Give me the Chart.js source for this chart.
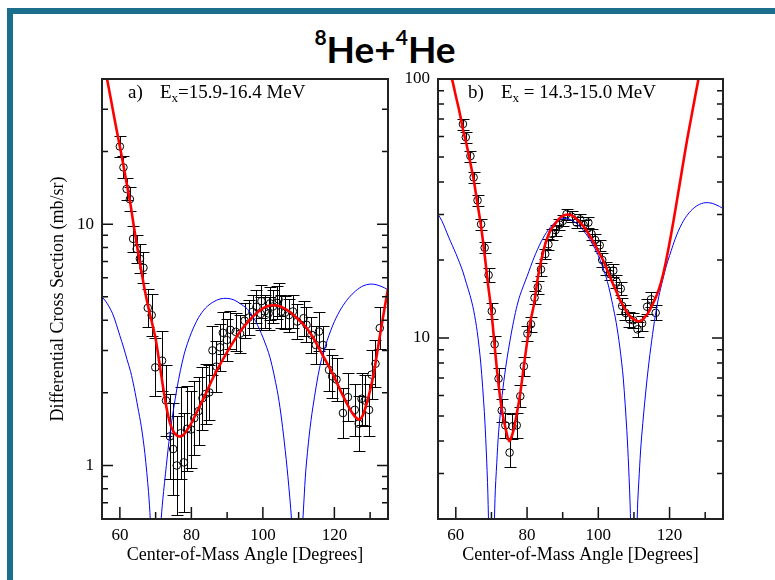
<!DOCTYPE html>
<html>
<head>
<meta charset="utf-8">
<script src="https://cdn.jsdelivr.net/npm/chart.js@4.4.0/dist/chart.umd.min.js"></script>
<style>
  html, body { margin: 0; padding: 0; background: #fff; }
  body { width: 775px; height: 580px; position: relative; overflow: hidden; }
  .frame { position: absolute; left: 7px; top: 8px; width: 830px; height: 640px;
           border: 6px solid #1b6f8c; box-sizing: border-box; }
  .title { position: absolute; left: 0; width: 770px; top: 30px; text-align: center;
           font-family: Lato, sans-serif; font-weight: 700; font-size: 37px; line-height: 37px; color: #000; }
  .title sup { font-size: 21px; vertical-align: 18px; line-height: 0; }
  canvas { position: absolute; }
  #chartA { left: 40px; top: 70px; }
  #chartB { left: 395px; top: 70px; }
  .lbl { position: absolute; font-family: "Liberation Serif", serif; font-size: 19px;
         line-height: 19px; white-space: pre; color: #000; }
  .lbl sub { font-size: 13px; vertical-align: -4px; line-height: 0; }
</style>
</head>
<body>
<div class="frame"></div>
<div class="title"><sup>8</sup>He+<sup>4</sup>He</div>
<canvas id="chartA" width="355" height="505"></canvas>
<canvas id="chartB" width="335" height="505"></canvas>
<div class="lbl" style="left:128px; top:82px;">a)</div>
<div class="lbl" style="left:160px; top:82px;">E<sub>x</sub>=15.9-16.4 MeV</div>
<div class="lbl" style="left:468px; top:82px;">b)</div>
<div class="lbl" style="left:501px; top:82px;">E<sub>x</sub> = 14.3-15.0 MeV</div>
<script>
// ---- panel a) Ex = 15.9-16.4 MeV ----
const angA = [60.0, 61.0, 61.9, 62.8, 63.7, 64.7, 65.6, 66.6, 67.8, 68.9, 69.9, 71.8, 72.9, 74.0, 74.9,
  75.9, 77.0, 77.9, 78.8, 79.9, 80.8, 82.0, 83.1, 84.0, 85.0, 85.9, 87.0, 88.0, 88.8, 89.9, 90.9, 92.4,
  93.6, 94.9, 96.0, 97.1, 98.2, 99.4, 99.6, 100.5, 101.6, 102.0, 102.8, 104.0, 104.4, 105.1, 106.2,
  107.3, 108.4, 109.6, 111.4, 112.2, 113.6, 114.8, 115.7, 116.8, 118.5, 119.4, 120.6, 122.4, 123.8,
  125.7, 126.8, 127.6, 128.5, 129.7, 130.4, 131.5, 132.7];
const xsecA = [21.0, 17.2, 14.0, 12.7, 8.7, 7.9, 7.2, 6.6, 4.5, 4.2, 2.55, 2.72, 1.86, 1.32, 1.17,
  1.0, 1.36, 1.03, 1.42, 1.41, 1.57, 1.68, 1.9, 1.98, 2.01, 3.0, 2.57, 3.09, 3.55, 3.31, 3.65, 3.58,
  3.52, 3.98, 4.1, 4.33, 4.55, 4.25, 4.8, 4.35, 4.27, 4.7, 4.56, 4.72, 4.88, 4.34, 4.3,
  4.2, 4.35, 3.95, 4.08, 3.83, 3.48, 3.16, 3.59, 3.16, 2.49, 2.34, 2.27, 1.65, 1.92,
  1.70, 1.49, 1.89, 1.86, 1.70, 2.38, 2.64, 3.71];
// relative errors
const errA = [0.11, 0.11, 0.11, 0.12, 0.13, 0.14, 0.15, 0.16, 0.2, 0.22, 0.32, 0.33, 0.4, 0.5, 0.55,
  0.6, 0.55, 0.6, 0.5, 0.45, 0.42, 0.38, 0.35, 0.33, 0.3, 0.26, 0.28, 0.25, 0.22, 0.22, 0.2, 0.2,
  0.2, 0.18, 0.18, 0.17, 0.17, 0.17, 0.17, 0.17, 0.17, 0.17, 0.17, 0.17, 0.17, 0.17, 0.17,
  0.17, 0.17, 0.18, 0.18, 0.18, 0.19, 0.2, 0.2, 0.2, 0.22, 0.23, 0.23, 0.27, 0.26,
  0.28, 0.3, 0.28, 0.28, 0.28, 0.26, 0.25, 0.22];

const fitAngA = [55, 56, 57, 58, 59, 60, 61, 62, 63, 64, 65, 66, 67, 68, 69, 70, 71, 72, 73, 74, 75, 76,
  77, 78, 79, 80, 82, 84, 86, 88, 90, 92, 94, 96, 98, 100, 102, 104, 106, 108, 110, 112, 114, 116,
  118, 120, 122, 124, 125, 126, 127, 128, 129, 130, 131, 132, 133, 134, 135];
const fitA = [51, 43, 36, 30, 25, 21, 17.5, 14.5, 12, 9.6, 7.8, 6.4, 5.3, 4.5, 3.9, 3.35, 2.7, 2.15, 1.75,
  1.5, 1.38, 1.33, 1.32, 1.35, 1.42, 1.5, 1.72, 1.98, 2.3, 2.62, 2.95, 3.3, 3.65, 3.97, 4.25, 4.48,
  4.6, 4.6, 4.48, 4.28, 4.02, 3.75, 3.4, 3.0, 2.65, 2.32, 2.0, 1.75, 1.65, 1.58, 1.55, 1.62, 1.8,
  2.05, 2.4, 2.95, 3.65, 4.45, 5.4];

const calcAngA = [55, 56, 57, 58, 59, 60, 61, 62, 63, 64, 65, 66, 67, 68, 68.5, 69, 69.5, 70, 70.5, 71,
  71.5, 72, 73, 74, 76, 78, 80, 82, 84, 86, 88, 90, 92, 94, 96, 98, 100, 102, 104, 105, 106, 107, 108,
  108.5, 109, 109.6, 110, 110.5, 111, 111.5, 112, 113, 114, 116, 118, 120, 122, 124, 126, 128, 130,
  132, 134, 135];
const calcA = [5.0, 4.8, 4.55, 4.25, 3.85, 3.45, 3.1, 2.75, 2.45, 2.1, 1.75, 1.45, 1.12, 0.78, 0.6,
  0.38, 0.12, 0.01, 0.12, 0.36, 0.58, 0.72, 1.0, 1.35, 2.1, 2.9, 3.55, 4.1, 4.5, 4.75, 4.9, 4.93,
  4.85, 4.65, 4.4, 3.95, 3.4, 2.8, 2.05, 1.65, 1.25, 0.9, 0.6, 0.42, 0.22, 0.01, 0.1, 0.3, 0.52,
  0.72, 0.95, 1.35, 1.75, 2.6, 3.3, 3.95, 4.5, 4.95, 5.3, 5.55, 5.65, 5.6, 5.45, 5.35];

// ---- panel b) Ex = 14.3-15.0 MeV ----
const angB = [62.0, 62.8, 64.1, 65.0, 66.1, 67.1, 68.1, 69.2, 70.1, 70.9, 72.0, 72.9, 73.9, 75.1, 75.9,
  77.1, 78.1, 79.1, 80.1, 81.1, 82.1, 83.0, 83.9, 85.1, 86.0, 87.0, 88.0, 89.1, 90.0, 91.1, 92.5, 93.9,
  94.9, 95.9, 97.2, 98.1, 99.1, 100.4, 101.1, 102.2, 103.3, 104.2, 105.1, 106.3, 106.7, 107.6, 108.7,
  109.8, 111.0, 112.3, 113.7, 114.8, 116.1];
const xsecB = [67, 59.6, 50.4, 41.7, 34.0, 27.5, 22.3, 17.5, 12.7, 9.46, 6.97, 5.25, 4.6, 3.61, 4.56,
  4.6, 5.96, 7.78, 10.4, 11.3, 14.3, 15.7, 18.4, 21.1, 23.0, 25.2, 26.1, 27.4, 28.3, 30.1, 29.4, 27.9,
  28.7, 27.3, 27.9, 25.2, 23.9, 22.8, 20.0, 18.5, 17.7, 18.2, 16.5, 15.5, 13.3, 12.5, 11.8,
  11.7, 10.8, 11.4, 13.2, 14.1, 12.5];
const errB = [0.05, 0.05, 0.05, 0.05, 0.05, 0.05, 0.05, 0.06, 0.07, 0.08, 0.1, 0.11, 0.12, 0.14, 0.12,
  0.12, 0.1, 0.09, 0.07, 0.07, 0.06, 0.06, 0.06, 0.05, 0.05, 0.05, 0.05, 0.05, 0.05, 0.05, 0.05, 0.05,
  0.05, 0.05, 0.05, 0.05, 0.05, 0.05, 0.06, 0.06, 0.06, 0.06, 0.06, 0.06, 0.07, 0.07, 0.07,
  0.07, 0.07, 0.07, 0.07, 0.07, 0.07];

const fitAngB = [57, 58, 59, 60, 61, 62, 63, 64, 65, 66, 67, 68, 69, 70, 71, 72, 73, 74, 75, 76, 77, 78,
  79, 80, 81, 82, 83, 84, 85, 86, 87, 88, 89, 90, 91, 92, 93, 94, 95, 96, 97, 98, 99, 100, 101, 102,
  103, 104, 105, 106, 107, 108, 109, 110, 111, 112, 113, 114, 115, 116, 117, 118, 119, 120, 121, 122,
  123, 124, 125, 126, 127, 128, 129];
const fitB = [125, 110, 99, 86, 75, 64, 56, 48, 41, 33.5, 27.5, 21.5, 16.3, 12.6, 9.0, 6.6, 5.2, 4.45,
  4.0, 4.3, 5.0, 6.0, 7.6, 9.6, 11.7, 13.6, 17.0, 20.0, 22.8, 25.0, 26.6, 27.8, 28.9, 29.6, 29.9, 29.9,
  29.5, 28.7, 27.8, 26.8, 25.6, 24.3, 23.0, 21.6, 20.4, 19.0, 17.6, 16.3, 15.2, 14.1, 13.3, 12.6, 12.1,
  11.8, 11.6, 11.65, 12.0, 12.5, 13.3, 14.2, 15.4, 17.2, 19.8, 23.3, 27.8, 33.5, 40.5, 49, 59, 70, 83,
  98, 115];

const calcAngB = [55, 56, 57, 58, 59, 60, 61, 62, 63, 64, 65, 66, 67, 68, 68.5, 69, 69.5, 70, 70.5, 71,
  71.5, 72, 73, 74, 75, 76, 77, 78, 80, 82, 84, 86, 88, 90, 92, 94, 96, 98, 100, 102, 103, 104, 105,
  106, 107, 108, 108.5, 109, 109.5, 110, 110.5, 111, 111.5, 112, 113, 114, 115, 116, 117, 118, 119,
  120, 122, 124, 126, 128, 130, 132, 134, 135];
const calcB = [30, 28.5, 26.5, 24.5, 22.8, 21.2, 19.6, 18, 16.2, 14.6, 12.8, 10.6, 8.0, 5.2, 3.8, 2.5,
  1.1, 0.1, 1.1, 2.4, 3.3, 4.3, 6.0, 7.7, 9.4, 11.2, 13, 14.6, 17.3, 20.5, 23.6, 26.2, 28.0, 28.9, 28.7,
  27.6, 25.8, 23.5, 20.8, 17.5, 15.6, 13.5, 11.5, 9.3, 7.0, 4.4, 3.2, 2.1, 0.9, 0.1, 1.0, 2.2, 3.0, 3.9,
  5.6, 7.6, 9.8, 12.2, 14.5, 16.6, 18.8, 20.8, 25.0, 28.5, 31.0, 32.6, 33.3, 33.1, 32.2, 31.6];

// axis ticks
const xMajor = [60, 80, 100, 120];
const xMinor = [70, 90, 110, 130];
const yMajorA = [1, 10];
const yMinorA = [0.7, 0.8, 0.9, 2, 3, 4, 5, 6, 7, 8, 9, 20, 30];
const yMajorB = [10, 100];
const yMinorB = [3, 4, 5, 6, 7, 8, 9, 20, 30, 40, 50, 60, 70, 80, 90];

const serif = '"Liberation Serif", "Times New Roman", serif';

function pts(xs, ys, es) {
  return xs.map((x, i) => es ? { x: x, y: ys[i], e: es[i] } : { x: x, y: ys[i] });
}

// error bars drawn under the lines
const errorBars = {
  id: 'errorBars',
  beforeDatasetsDraw(chart) {
    const { ctx, chartArea: a, scales: { x, y } } = chart;
    const data = chart.data.datasets[2].data;
    ctx.save();
    ctx.beginPath();
    ctx.rect(a.left, a.top, a.right - a.left, a.bottom - a.top);
    ctx.clip();
    ctx.strokeStyle = '#000';
    ctx.lineWidth = 1;
    ctx.beginPath();
    data.forEach(p => {
      const px = Math.round(x.getPixelForValue(p.x)) + 0.5;
      const hi = Math.round(y.getPixelForValue(p.y * (1 + p.e))) + 0.5;
      const lo = Math.round(y.getPixelForValue(p.y / (1 + p.e))) + 0.5;
      ctx.moveTo(px, hi); ctx.lineTo(px, lo);
      ctx.moveTo(px - 6, hi); ctx.lineTo(px + 6, hi);
      ctx.moveTo(px - 6, lo); ctx.lineTo(px + 6, lo);
    });
    ctx.stroke();
    ctx.restore();
  }
};

// box and inward ticks
const frameTicks = {
  id: 'frameTicks',
  afterDatasetsDraw(chart, args, opts) {
    const { ctx, chartArea: a, scales: { x, y } } = chart;
    ctx.save();
    ctx.strokeStyle = '#111';
    ctx.lineWidth = 1.5;
    ctx.beginPath();
    const yt = opts.yMajor.map(v => [v, 11]).concat(opts.yMinor.map(v => [v, 6]));
    yt.forEach(([v, len]) => {
      const py = y.getPixelForValue(v);
      ctx.moveTo(a.left, py); ctx.lineTo(a.left + len, py);
      ctx.moveTo(a.right, py); ctx.lineTo(a.right - len, py);
    });
    const xt = xMajor.map(v => [v, 12]).concat(xMinor.map(v => [v, 7]));
    xt.forEach(([v, len]) => {
      const px = x.getPixelForValue(v);
      ctx.moveTo(px, a.bottom); ctx.lineTo(px, a.bottom - len);
    });
    ctx.stroke();
    ctx.lineWidth = 2;
    ctx.strokeStyle = '#222';
    ctx.strokeRect(a.left, a.top, a.right - a.left, a.bottom - a.top);
    ctx.restore();
  }
};

function makeChart(id, o) {
  return new Chart(document.getElementById(id), {
    type: 'scatter',
    data: {
      datasets: [
        { data: pts(o.fitX, o.fitY), showLine: true, borderColor: '#ff0000', borderWidth: 2.6,
          pointRadius: 0, tension: 0.3, clip: 0 },
        { data: pts(o.calcX, o.calcY), showLine: true, borderColor: '#0000ff', borderWidth: 1,
          pointRadius: 0, tension: 0.3, clip: 0 },
        { data: pts(o.x, o.y, o.e), showLine: false, pointRadius: 3.8, pointStyle: 'circle',
          borderColor: '#000', backgroundColor: 'rgba(0,0,0,0)', borderWidth: 1, clip: 0 }
      ]
    },
    options: {
      responsive: false,
      animation: false,
      devicePixelRatio: 1,
      layout: { padding: { top: 9, right: 7, left: 0, bottom: 0 } },
      plugins: {
        legend: { display: false },
        tooltip: { enabled: false },
        frameTicks: { yMajor: o.yMajor, yMinor: o.yMinor }
      },
      scales: {
        x: {
          type: 'linear', min: 55, max: 135,
          grid: { display: false, drawTicks: false },
          border: { display: false },
          afterBuildTicks: s => { s.ticks = xMajor.map(v => ({ value: v })); },
          afterFit: s => { s.height = 56; s.paddingLeft = 0; s.paddingRight = 0; },
          ticks: { color: '#000', padding: 6, font: { family: serif, size: 17 } },
          title: { display: true, text: 'Center-of-Mass Angle [Degrees]', color: '#000',
                   padding: { top: 0, bottom: 9 }, font: { family: serif, size: 18 } }
        },
        y: {
          type: 'logarithmic', min: o.yMin, max: o.yMax,
          grid: { display: false, drawTicks: false },
          border: { display: false },
          afterBuildTicks: s => { s.ticks = o.yMajor.map(v => ({ value: v })); },
          afterFit: s => { s.width = o.yWidth; s.paddingTop = 0; s.paddingBottom = 0; },
          ticks: { color: '#000', padding: 8, font: { family: serif, size: 17 },
                   callback: v => String(v) },
          title: { display: o.yTitle !== '', text: o.yTitle, color: '#000',
                   padding: { top: 7, bottom: 0 }, font: { family: serif, size: 18 } }
        }
      }
    },
    plugins: [errorBars, frameTicks]
  });
}

makeChart('chartA', {
  x: angA, y: xsecA, e: errA, fitX: fitAngA, fitY: fitA, calcX: calcAngA, calcY: calcA,
  yMin: 0.6, yMax: 40, yMajor: yMajorA, yMinor: yMinorA, yWidth: 62,
  yTitle: 'Differential Cross Section (mb/sr)'
});
makeChart('chartB', {
  x: angB, y: xsecB, e: errB, fitX: fitAngB, fitY: fitB, calcX: calcAngB, calcY: calcB,
  yMin: 2, yMax: 100, yMajor: yMajorB, yMinor: yMinorB, yWidth: 43, yTitle: ''
});
</script>
</body>
</html>
